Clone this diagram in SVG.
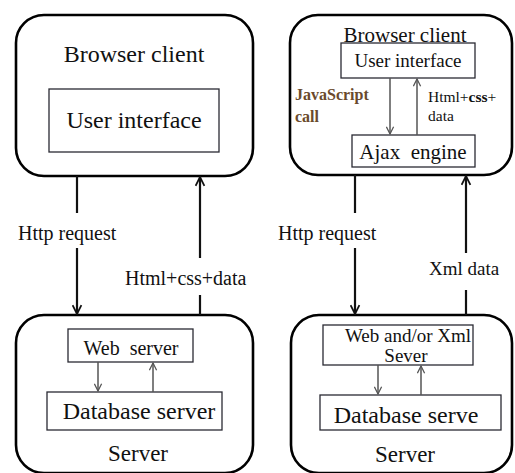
<svg xmlns="http://www.w3.org/2000/svg" width="515" height="473" viewBox="0 0 515 473" font-family="'Liberation Serif', 'DejaVu Serif', serif">
  <style>
    text { fill: #111; }
    .outer { fill: #fff; stroke: #000; stroke-width: 2.6; }
    .inner { fill: #fff; stroke: #2a2a33; stroke-width: 1.3; }
    .link { fill: none; stroke: #111; stroke-width: 2.2; }
    .sub { fill: none; stroke: #555; stroke-width: 1.5; }
    .mid { text-anchor: middle; }
    .js { fill: #6a4a2c; font-weight: bold; }
  </style>
  <defs>
    <marker id="head" viewBox="0 0 10 10" refX="9" refY="5" markerWidth="5" markerHeight="5" orient="auto" markerUnits="strokeWidth">
      <path d="M1,1 L9,5 L1,9" fill="none" stroke="#111" stroke-width="1.6"/>
    </marker>
    <marker id="headSub" viewBox="0 0 10 10" refX="9" refY="5" markerWidth="6" markerHeight="6" orient="auto" markerUnits="strokeWidth">
      <path d="M1,1 L9,5 L1,9" fill="none" stroke="#555" stroke-width="1.4"/>
    </marker>
  </defs>
  <rect width="515" height="473" fill="#fff"/>

  <!-- classic model: browser -->
  <g id="classic-browser">
    <rect class="outer" x="16" y="15" width="237" height="161" rx="28"/>
    <text class="mid" x="134" y="62" font-size="24">Browser client</text>
    <g id="classic-ui">
      <rect class="inner" x="49" y="89" width="170" height="63"/>
      <text class="mid" x="134" y="128" font-size="24">User interface</text>
    </g>
  </g>

  <!-- classic model: server -->
  <g id="classic-server">
    <rect class="outer" x="16" y="315" width="237" height="158" rx="28"/>
    <g id="classic-web">
      <rect class="inner" x="68" y="329" width="125" height="33"/>
      <text class="mid" x="131" y="355" font-size="20" xml:space="preserve">Web  server</text>
    </g>
    <g id="classic-db">
      <rect class="inner" x="47" y="392" width="175" height="38"/>
      <text class="mid" x="139" y="419" font-size="24">Database server</text>
    </g>
    <text class="mid" x="138" y="461" font-size="23">Server</text>
  </g>

  <!-- Ajax model: browser -->
  <g id="ajax-browser">
    <rect class="outer" x="290" y="15" width="222" height="160" rx="28"/>
    <text class="mid" x="405" y="42" font-size="21">Browser client</text>
    <g id="ajax-ui">
      <rect class="inner" x="341" y="43" width="134" height="35"/>
      <text class="mid" x="408" y="67" font-size="19">User interface</text>
    </g>
    <g id="ajax-engine">
      <rect class="inner" x="352" y="135" width="123" height="32"/>
      <text class="mid" x="413" y="159" font-size="21" xml:space="preserve">Ajax  engine</text>
    </g>
    <text class="js" x="295" y="100" font-size="16">JavaScript</text>
    <text class="js" x="295" y="122" font-size="16">call</text>
    <text x="428" y="102" font-size="15.5">Html+<tspan font-weight="bold">css</tspan>+</text>
    <text x="428" y="121" font-size="15.5">data</text>
  </g>

  <!-- Ajax model: server -->
  <g id="ajax-server">
    <rect class="outer" x="291" y="315" width="221" height="158" rx="28"/>
    <g id="ajax-web">
      <rect class="inner" x="323" y="325" width="150" height="40"/>
      <text class="mid" x="408" y="342" font-size="19">Web and/or Xml</text>
      <text class="mid" x="406" y="362" font-size="19">Sever</text>
    </g>
    <g id="ajax-db">
      <rect class="inner" x="320" y="395" width="181" height="35"/>
      <text class="mid" x="406" y="423" font-size="24">Database serve</text>
    </g>
    <text class="mid" x="405" y="462" font-size="23">Server</text>
  </g>

  <!-- connectors -->
  <g id="connectors">
    <!-- classic: request down, page up -->
    <line class="link" x1="77" y1="176" x2="77" y2="213"/>
    <line class="link" x1="77" y1="248" x2="77" y2="314" marker-end="url(#head)"/>
    <text x="18" y="240" font-size="20">Http request</text>
    <line class="link" x1="200" y1="315" x2="200" y2="295"/>
    <line class="link" x1="200" y1="258" x2="200" y2="177" marker-end="url(#head)"/>
    <text x="125" y="285" font-size="20">Html+css+data</text>
    <line class="sub" x1="98" y1="362" x2="98" y2="391" marker-end="url(#headSub)"/>
    <line class="sub" x1="153" y1="392" x2="153" y2="363" marker-end="url(#headSub)"/>

    <!-- Ajax: request down, xml up -->
    <line class="link" x1="355" y1="175" x2="355" y2="213"/>
    <line class="link" x1="355" y1="248" x2="355" y2="314" marker-end="url(#head)"/>
    <text x="278" y="240" font-size="20">Http request</text>
    <line class="link" x1="466" y1="315" x2="466" y2="290"/>
    <line class="link" x1="466" y1="253" x2="466" y2="176" marker-end="url(#head)"/>
    <text x="429" y="275" font-size="19">Xml data</text>
    <line class="sub" x1="390" y1="78" x2="390" y2="134" marker-end="url(#headSub)"/>
    <line class="sub" x1="417" y1="135" x2="417" y2="79" marker-end="url(#headSub)"/>
    <line class="sub" x1="378" y1="365" x2="378" y2="394" marker-end="url(#headSub)"/>
    <line class="sub" x1="421" y1="395" x2="421" y2="366" marker-end="url(#headSub)"/>
  </g>
</svg>
